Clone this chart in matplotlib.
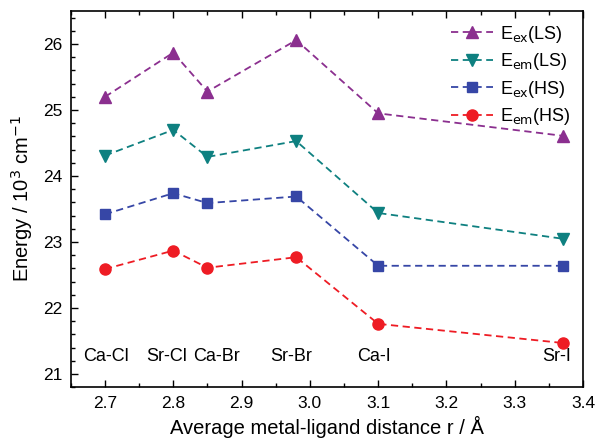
import matplotlib.pyplot as plt
from matplotlib.ticker import MultipleLocator

plt.rcParams['font.family'] = ['Liberation Sans', 'DejaVu Sans']

r = [2.7, 2.8, 2.85, 2.98, 3.1, 3.37]
names = ["Ca-Cl", "Sr-Cl", "Ca-Br", "Sr-Br", "Ca-I", "Sr-I"]
# label positions as placed in the figure (nudged so they don't collide)
name_x = [2.702, 2.790, 2.864, 2.973, 3.094, 3.361]
name_y = 21.26

ex_ls = [25.20, 25.87, 25.28, 26.06, 24.95, 24.61]
em_ls = [24.31, 24.70, 24.29, 24.53, 23.44, 23.05]
ex_hs = [23.42, 23.74, 23.59, 23.69, 22.64, 22.64]
em_hs = [22.59, 22.87, 22.61, 22.77, 21.76, 21.47]

fig = plt.figure(figsize=(5.95, 4.43), dpi=100)
ax = fig.add_axes([0.119, 0.126, 0.861, 0.849])

dash = (0, (4, 2.5))
ax.plot(r, ex_ls, color='#8B2F8F', ls=dash, lw=1.3, marker='^', ms=8.5, label='E$_{\\mathrm{ex}}$(LS)')
ax.plot(r, em_ls, color='#0E8080', ls=dash, lw=1.3, marker='v', ms=8.5, label='E$_{\\mathrm{em}}$(LS)')
ax.plot(r, ex_hs, color='#3646A6', ls=dash, lw=1.3, marker='s', ms=7, label='E$_{\\mathrm{ex}}$(HS)')
ax.plot(r, em_hs, color='#EE1C24', ls=dash, lw=1.3, marker='o', ms=8, label='E$_{\\mathrm{em}}$(HS)')

for x, n in zip(name_x, names):
    ax.text(x, name_y, n, ha='center', va='center', fontsize=13)

ax.set_xlim(2.65, 3.40)
ax.set_ylim(20.8, 26.5)
ax.xaxis.set_major_locator(MultipleLocator(0.1))
ax.xaxis.set_minor_locator(MultipleLocator(0.05))
ax.yaxis.set_major_locator(MultipleLocator(1))
ax.yaxis.set_minor_locator(MultipleLocator(0.2))
ax.xaxis.set_major_formatter(plt.FormatStrFormatter('%.1f'))
ax.tick_params(which='both', direction='in', top=True, right=False, labelsize=12.5, width=1)
ax.tick_params(which='major', length=5, pad=6)
ax.tick_params(which='minor', length=3)
for s in ax.spines.values():
    s.set_linewidth(1.2)

ax.set_xlabel('Average metal-ligand distance r / Å', fontsize=14.5, labelpad=4)
ax.set_ylabel('Energy / 10$^3$ cm$^{-1}$', fontsize=14.5, labelpad=6)

ax.legend(loc='upper right', frameon=False, fontsize=13, handlelength=2.3,
          labelspacing=0.36, borderaxespad=0.3, handletextpad=0.4)

fig.savefig('out.png', dpi=100)
